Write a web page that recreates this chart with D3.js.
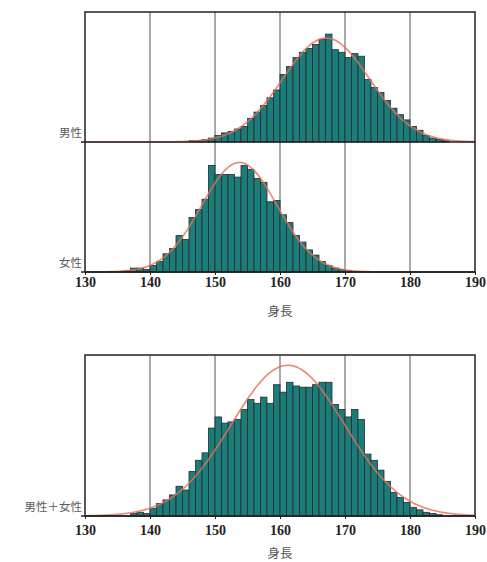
<!DOCTYPE html>
<html>
<head>
<meta charset="utf-8">
<script src="https://cdn.jsdelivr.net/npm/d3@7"></script>
<style>
  body { margin: 0; background: #fff; }
  svg { display: block; }
</style>
</head>
<body>
<svg id="chart" width="487" height="562"></svg>
<script>
// Height histograms (1 cm bins) by group
const tickValues = [130, 140, 150, 160, 170, 180, 190];
const axisTitle = "身長";
const groupLabels = ["男性", "女性", "男性＋女性"];

// first bin lower edge and counts per 1 cm bin
const maleStart = 146;
const maleCounts = [1, 1, 2, 3, 5, 7, 8, 10, 12, 18,
  23, 28, 34, 40, 52, 58, 65, 69, 72, 75,
  79, 83, 71, 69, 65, 68, 66, 48, 42, 38,
  32, 26, 21, 17, 12, 9, 5, 3, 2, 1];

const femaleStart = 136;
const femaleCounts = [1, 3, 3, 2, 5, 8, 14, 18, 28, 25,
  42, 48, 56, 82, 75, 75, 75, 73, 82, 79,
  72, 69, 54, 55, 44, 38, 28, 23, 17, 13,
  8, 5, 3, 2, 1];

const allStart = 137;
const allCounts = [2, 3, 2, 6, 10, 13, 17, 24, 21, 36,
  45, 51, 71, 80, 75, 76, 78, 86, 94, 91,
  96, 91, 106, 100, 108, 105, 104, 104, 106, 108,
  108, 90, 86, 80, 86, 78, 50, 45, 37, 28,
  19, 15, 11, 7, 5, 3, 2, 1];

const svg = d3.select("#chart");
const x = d3.scaleLinear().domain([130, 190]).range([85, 475]);

const BAR_FILL = "#1b7d7a";
const CURVE = "#e2705c";
const LABEL_FONT = "'Noto Sans CJK JP', 'Noto Sans', sans-serif";
const NUM_FONT = "'Liberation Serif', 'DejaVu Serif', serif";

const panels = [
  { label: groupLabels[0], start: maleStart, counts: maleCounts, y: d3.scaleLinear().domain([0, 100]).range([142, 12]) },
  { label: groupLabels[1], start: femaleStart, counts: femaleCounts, y: d3.scaleLinear().domain([0, 100]).range([272, 142]) },
  { label: groupLabels[2], start: allStart, counts: allCounts, y: d3.scaleLinear().domain([0, 130]).range([516, 355]) }
];

// fitted normal curve (same total count and bin width) from the binned data
function normalFit(start, counts) {
  const n = d3.sum(counts);
  const mids = counts.map((c, i) => start + i + 0.5);
  const mean = d3.sum(counts, (c, i) => c * mids[i]) / n;
  const sd = Math.sqrt(d3.sum(counts, (c, i) => c * (mids[i] - mean) ** 2) / n);
  return d3.range(130, 190.01, 0.25).map(v => [v,
    n / (sd * Math.sqrt(2 * Math.PI)) * Math.exp(-((v - mean) ** 2) / (2 * sd * sd))]);
}

function drawGrid(yTop, yBottom) {
  svg.append("g").selectAll("line")
    .data(tickValues.slice(1, -1))
    .join("line")
    .attr("x1", d => x(d)).attr("x2", d => x(d))
    .attr("y1", yTop).attr("y2", yBottom)
    .attr("stroke", "#555").attr("stroke-width", 1);
}

function drawPanel(p) {
  const y0 = p.y.range()[0];
  const g = svg.append("g");
  g.selectAll("rect")
    .data(p.counts)
    .join("rect")
    .attr("x", (c, i) => x(p.start + i))
    .attr("width", (c, i) => x(p.start + i + 1) - x(p.start + i))
    .attr("y", c => p.y(c))
    .attr("height", c => y0 - p.y(c))
    .attr("fill", BAR_FILL)
    .attr("stroke", "#2a2a2a")
    .attr("stroke-width", 0.8);

  const line = d3.line().x(d => x(d[0])).y(d => p.y(d[1])).curve(d3.curveBasis);
  g.append("path")
    .attr("d", line(normalFit(p.start, p.counts)))
    .attr("fill", "none")
    .attr("stroke", CURVE)
    .attr("stroke-width", 1.7)
    .attr("stroke-opacity", 0.8);

  // baseline and category label
  g.append("line")
    .attr("x1", x(130) - 4).attr("x2", x(190))
    .attr("y1", y0).attr("y2", y0)
    .attr("stroke", "#222").attr("stroke-width", 1.3);
  g.append("text")
    .attr("x", x(130) - 3)
    .attr("y", y0 - 5)
    .attr("text-anchor", "end")
    .attr("font-family", LABEL_FONT)
    .attr("font-size", 11.5)
    .attr("fill", "#5a5a5a")
    .text(p.label);
}

function drawFrame(yTop, yBottom) {
  svg.append("rect")
    .attr("x", x(130)).attr("y", yTop)
    .attr("width", x(190) - x(130)).attr("height", yBottom - yTop)
    .attr("fill", "none").attr("stroke", "#222").attr("stroke-width", 1.5);
}

function drawAxis(yBase, pad, titleY) {
  const axis = d3.axisBottom(x).tickValues(tickValues).tickSize(3).tickPadding(pad).tickFormat(d3.format("d"));
  const g = svg.append("g").attr("transform", `translate(0,${yBase})`).call(axis);
  g.select(".domain").remove();
  g.selectAll(".tick line").attr("stroke", "#222");
  g.selectAll("text")
    .attr("font-family", NUM_FONT)
    .attr("font-weight", "bold")
    .attr("font-size", 14)
    .attr("fill", "#222");
  svg.append("text")
    .attr("x", x(160)).attr("y", titleY)
    .attr("text-anchor", "middle")
    .attr("font-family", LABEL_FONT)
    .attr("font-size", 12.5)
    .attr("fill", "#555")
    .text(axisTitle);
}

// upper figure: male over female
drawGrid(12, 272);
drawPanel(panels[0]);
drawPanel(panels[1]);
drawFrame(12, 272);
drawAxis(272, 2, 316);

// lower figure: both groups together
drawGrid(355, 516);
drawPanel(panels[2]);
drawFrame(355, 516);
drawAxis(516, 6, 558);
</script>
</body>
</html>
